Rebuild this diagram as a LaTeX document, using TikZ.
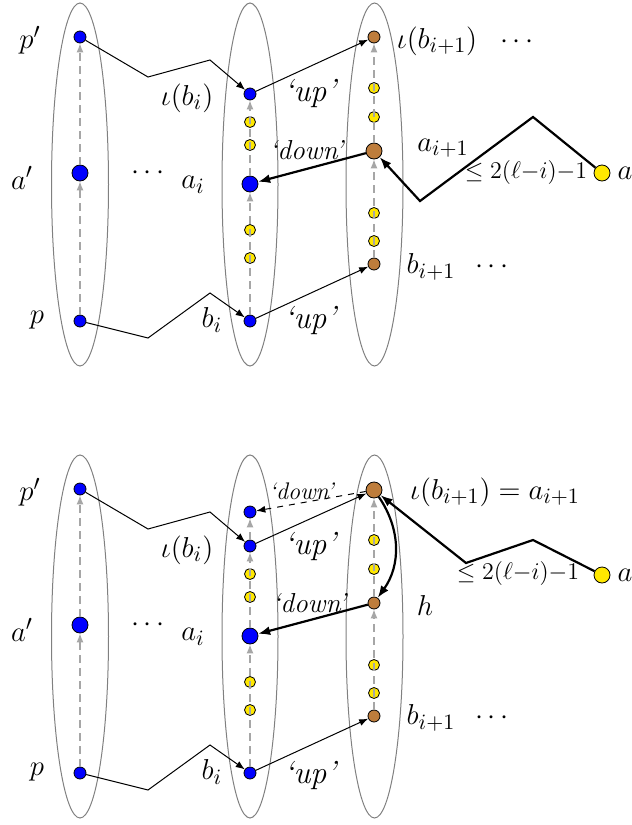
\documentclass[tikz,border=0pt]{standalone}
\usetikzlibrary{arrows.meta}
\definecolor{nbrown}{RGB}{190,125,60}
\definecolor{nyellow}{RGB}{255,232,0}
\begin{document}
\begin{tikzpicture}[x=0.5pt,y=-0.5pt,
 dot/.style={circle,draw=black,line width=0.4pt,inner sep=0pt},
 sb/.style={dot,fill=blue,minimum size=6pt},
 bb/.style={dot,fill=blue,minimum size=8pt},
 sy/.style={dot,fill=nyellow,minimum size=5.5pt},
 by/.style={dot,fill=nyellow,minimum size=8pt},
 sr/.style={dot,fill=nbrown,minimum size=6pt},
 br/.style={dot,fill=nbrown,minimum size=8pt},
 grp/.style={draw=gray,line width=0.5pt},
 chain/.style={draw=gray!70,dash pattern=on 4pt off 2.5pt,line width=0.6pt,-{Latex[length=4.5pt,width=3.5pt]}},
 conn/.style={-{Latex[length=4.5pt,width=3.5pt]},line width=0.5pt},
 thk/.style={-{Latex[length=6pt,width=4.5pt]},line width=1.1pt},
 lab/.style={font=\fontsize{15.3}{18}\selectfont,inner sep=0pt},
 ulab/.style={font=\fontsize{16}{19}\selectfont,inner sep=0pt},
 dlab/.style={font=\fontsize{13.7}{16}\selectfont,inner sep=0pt},
 mlab/.style={font=\large,inner sep=0pt},
 slab/.style={font=\fontsize{12}{14}\selectfont,inner sep=0pt}
]
\useasboundingbox (0,0) rectangle (632,825);

% ---------------- top panel ----------------
\draw[grp] (80,184.5) ellipse [x radius=14.25pt, y radius=90.75pt];
\draw[grp] (250,184.5) ellipse [x radius=14pt, y radius=90.75pt];
\draw[grp] (374.5,184.5) ellipse [x radius=14.25pt, y radius=90.75pt];

\node[sb] (pp) at (80,37) {};
\node[bb] (ap) at (80,173) {};
\node[sb] (p) at (80,321) {};
\node[sb] (ib) at (250,94) {};
\node[sy] (y1) at (250,122) {};
\node[sy] (y2) at (250,145) {};
\node[bb] (ai) at (250,184) {};
\node[sy] (y3) at (250,230) {};
\node[sy] (y4) at (250,258) {};
\node[sb] (bi) at (250,321) {};
\node[sr] (ibn) at (374,37) {};
\node[sy] (z1) at (374,88) {};
\node[sy] (z2) at (374,117) {};
\node[br] (an) at (374,151) {};
\node[sy] (z3) at (374,213) {};
\node[sy] (z4) at (374,241) {};
\node[sr] (bn) at (374,264) {};
\node[by] (a) at (602,173) {};

\draw[chain] (p) -- (ap);
\draw[chain] (ap) -- (pp);
\draw[chain] (bi) -- (ai);
\draw[chain] (ai) -- (ib);
\draw[chain] (bn) -- (an);
\draw[chain] (an) -- (ibn);

\coordinate (k1) at (148,77);
\coordinate (k2) at (210,60);
\coordinate (k3) at (148,338);
\coordinate (k4) at (210,293);
\coordinate (k5) at (533,117);
\coordinate (k6) at (420,201);
\draw[conn] (pp) -- (k1) -- (k2) -- (ib);
\draw[conn] (p) -- (k3) -- (k4) -- (bi);
\draw[conn] (ib) -- (ibn);
\draw[conn] (bi) -- (bn);
\draw[thk] (an) -- (ai);
\draw[thk] (a) -- (k5) -- (k6) -- (an);

\node[lab] at (30,40) {$p'$};
\node[lab] at (22,178) {$a'$};
\node[lab] at (37,320) {$p$};
\node[lab] at (148,173) {$\cdots$};
\node[lab] at (187,98) {$\iota(b_i)$};
\node[lab] at (193,185) {$a_i$};
\node[lab] at (212,320) {$b_i$};
\node[ulab] at (311,93) {\textit{`up'}};
\node[ulab] at (311,320) {\textit{`up'}};
\node[dlab] at (307,150) {\textit{`down'}};
\node[lab] at (443,148) {$a_{i+1}$};
\node[lab] at (437,41) {$\iota(b_{i+1})$};
\node[lab] at (517,42) {$\cdots$};
\node[lab] at (431,267) {$b_{i+1}$};
\node[lab] at (492,267) {$\cdots$};
\node[mlab] at (526,172) {$\leq 2(\ell{-}i){-}1$};
\node[lab] at (625,173) {$a$};

% ---------------- bottom panel ----------------
\begin{scope}[shift={(0,452)}]
\draw[grp] (80,184.5) ellipse [x radius=14.25pt, y radius=90.75pt];
\draw[grp] (250,184.5) ellipse [x radius=14pt, y radius=90.75pt];
\draw[grp] (374.5,184.5) ellipse [x radius=14.25pt, y radius=90.75pt];

\node[sb] (ppB) at (80,37) {};
\node[bb] (apB) at (80,173) {};
\node[sb] (pB) at (80,321) {};
\node[sb] (xB) at (250,60) {};
\node[sb] (ibB) at (250,94) {};
\node[sy] (y1B) at (250,122) {};
\node[sy] (y2B) at (250,145) {};
\node[bb] (aiB) at (250,184) {};
\node[sy] (y3B) at (250,230) {};
\node[sy] (y4B) at (250,258) {};
\node[sb] (biB) at (250,321) {};
\node[br] (anB) at (374,38) {};
\node[sy] (z1B) at (374,88) {};
\node[sy] (z2B) at (374,117) {};
\node[sr] (hB) at (374,151) {};
\node[sy] (z3B) at (374,213) {};
\node[sy] (z4B) at (374,241) {};
\node[sr] (bnB) at (374,264) {};
\node[by] (aB) at (602,123) {};

\draw[chain] (pB) -- (apB);
\draw[chain] (apB) -- (ppB);
\draw[chain] (biB) -- (aiB);
\draw[chain] (aiB) -- (ibB);
\draw[chain] (ibB) -- (xB);
\draw[chain] (bnB) -- (hB);
\draw[chain] (hB) -- (anB);

\coordinate (m1) at (148,77);
\coordinate (m2) at (210,60);
\coordinate (m3) at (148,338);
\coordinate (m4) at (210,293);
\coordinate (m5) at (533,88);
\coordinate (m6) at (466,111);
\draw[conn] (ppB) -- (m1) -- (m2) -- (ibB);
\draw[conn] (pB) -- (m3) -- (m4) -- (biB);
\draw[conn] (ibB) -- (anB);
\draw[conn] (biB) -- (bnB);
\draw[conn,dashed] (anB) -- (xB);
\draw[thk] (anB) to[bend left=35] (hB);
\draw[thk] (hB) -- (aiB);
\draw[thk] (aB) -- (m5) -- (m6) -- (anB);

\node[lab] at (30,40) {$p'$};
\node[lab] at (22,178) {$a'$};
\node[lab] at (37,320) {$p$};
\node[lab] at (148,173) {$\cdots$};
\node[lab] at (187,98) {$\iota(b_i)$};
\node[lab] at (193,185) {$a_i$};
\node[lab] at (212,320) {$b_i$};
\node[ulab] at (311,94) {\textit{`up'}};
\node[ulab] at (311,323) {\textit{`up'}};
\node[dlab] at (310,151) {\textit{`down'}};
\node[slab] at (302,39) {\textit{`down'}};
\node[lab] at (495,40) {$\iota(b_{i+1}) = a_{i+1}$};
\node[lab] at (425,153) {$h$};
\node[lab] at (431,266) {$b_{i+1}$};
\node[lab] at (492,266) {$\cdots$};
\node[mlab] at (518,121) {$\leq 2(\ell{-}i){-}1$};
\node[lab] at (625,123) {$a$};
\end{scope}
\end{tikzpicture}
\end{document}
